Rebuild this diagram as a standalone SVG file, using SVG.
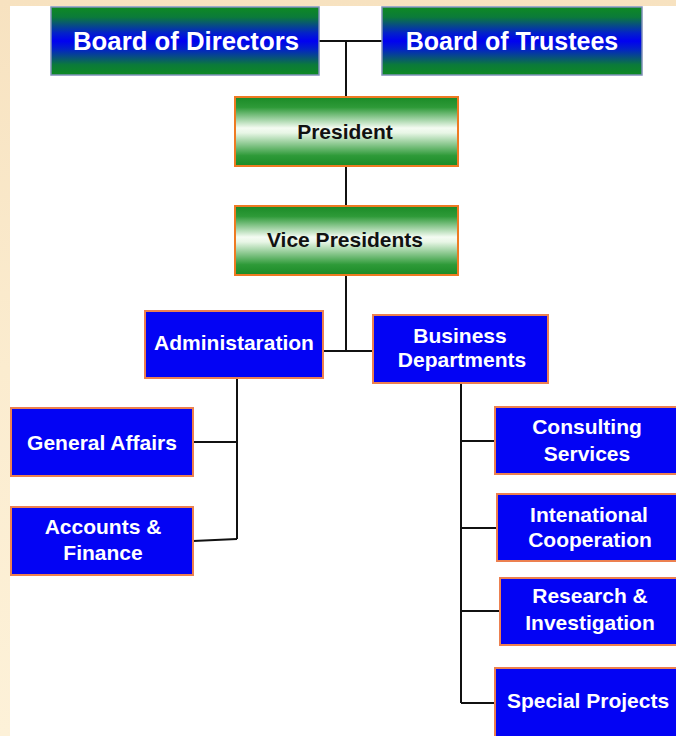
<svg xmlns="http://www.w3.org/2000/svg" width="676" height="736" viewBox="0 0 676 736">
<defs>
<linearGradient id="gBoard" x1="0" y1="0" x2="0" y2="1">
<stop offset="0" stop-color="#0e8a22"/>
<stop offset="0.15" stop-color="#0b7a3a"/>
<stop offset="0.38" stop-color="#0322c8"/>
<stop offset="0.5" stop-color="#0000f2"/>
<stop offset="0.62" stop-color="#0322c8"/>
<stop offset="0.85" stop-color="#0b7a3a"/>
<stop offset="1" stop-color="#0e8a22"/>
</linearGradient>
<linearGradient id="gGreen" x1="0" y1="0" x2="0" y2="1">
<stop offset="0" stop-color="#1a8a26"/>
<stop offset="0.15" stop-color="#2e9a38"/>
<stop offset="0.45" stop-color="#f4fbf2"/>
<stop offset="0.52" stop-color="#e8f6e6"/>
<stop offset="0.85" stop-color="#2e9a38"/>
<stop offset="1" stop-color="#1a8a26"/>
</linearGradient>
<linearGradient id="gBg" x1="0" y1="0" x2="0" y2="1">
<stop offset="0" stop-color="#f7e2c0"/>
<stop offset="0.5" stop-color="#fbeccf"/>
<stop offset="1" stop-color="#fdf1d8"/>
</linearGradient>
</defs>
<style>
.board{fill:url(#gBoard);stroke:#7f90b8;stroke-width:1.5}
.green{fill:url(#gGreen);stroke:#ee7a22;stroke-width:2}
.blue{fill:#0303f4;stroke:#ec8050;stroke-width:2}
.tw{font-family:"Liberation Sans",Arial,sans-serif;font-weight:bold;fill:#ffffff;text-anchor:middle}
.tb{font-family:"Liberation Sans",Arial,sans-serif;font-weight:bold;fill:#111111;text-anchor:middle}
.conn{fill:none;stroke:#111111;stroke-width:2}
</style>
<rect x="0" y="0" width="676" height="736" fill="url(#gBg)"/>
<rect x="10" y="6" width="666" height="730" fill="#ffffff"/>

<g id="connectors" class="conn">
<path d="M319 41 H382"/>
<path d="M346 41 V97"/>
<path d="M346 167 V206"/>
<path d="M346 275 V351"/>
<path d="M323 351 H373"/>
<path d="M237 378 V539"/>
<path d="M193 442 H237"/>
<path d="M193 541 L237 539"/>
<path d="M461 383 V703"/>
<path d="M461 441 H495"/>
<path d="M461 528 H497"/>
<path d="M461 611 H500"/>
<path d="M461 703 H495"/>
</g>

<g id="board-directors">
<rect class="board" x="51" y="7" width="268" height="68"/>
<text class="tw" x="186" y="50" font-size="25" textLength="226" lengthAdjust="spacingAndGlyphs">Board of Directors</text>
</g>
<g id="board-trustees">
<rect class="board" x="382" y="7" width="260" height="68"/>
<text class="tw" x="512" y="50" font-size="25">Board of Trustees</text>
</g>
<g id="president">
<rect class="green" x="235" y="97" width="223" height="69"/>
<text class="tb" x="345" y="139" font-size="21">President</text>
</g>
<g id="vice-presidents">
<rect class="green" x="235" y="206" width="223" height="69"/>
<text class="tb" x="345" y="247" font-size="21">Vice Presidents</text>
</g>
<g id="administaration">
<rect class="blue" x="145" y="311" width="178" height="67"/>
<text class="tw" x="234" y="350" font-size="21">Administaration</text>
</g>
<g id="business-departments">
<rect class="blue" x="373" y="315" width="175" height="68"/>
<text class="tw" x="460" y="343" font-size="21">Business</text>
<text class="tw" x="462" y="367" font-size="21">Departments</text>
</g>
<g id="general-affairs">
<rect class="blue" x="11" y="408" width="182" height="68"/>
<text class="tw" x="102" y="450" font-size="21">General Affairs</text>
</g>
<g id="accounts-finance">
<rect class="blue" x="11" y="507" width="182" height="68"/>
<text class="tw" x="103" y="534" font-size="21">Accounts &amp;</text>
<text class="tw" x="103" y="560" font-size="21">Finance</text>
</g>
<g id="consulting-services">
<rect class="blue" x="495" y="407" width="183" height="67"/>
<text class="tw" x="587" y="434" font-size="21">Consulting</text>
<text class="tw" x="587" y="461" font-size="21">Services</text>
</g>
<g id="international-cooperation">
<rect class="blue" x="497" y="494" width="181" height="67"/>
<text class="tw" x="589" y="522" font-size="21">Intenational</text>
<text class="tw" x="590" y="547" font-size="21">Cooperation</text>
</g>
<g id="research-investigation">
<rect class="blue" x="500" y="578" width="178" height="67"/>
<text class="tw" x="590" y="603" font-size="21">Research &amp;</text>
<text class="tw" x="590" y="630" font-size="21">Investigation</text>
</g>
<g id="special-projects">
<rect class="blue" x="495" y="668" width="183" height="70"/>
<text class="tw" x="588" y="708" font-size="21">Special Projects</text>
</g>
</svg>
